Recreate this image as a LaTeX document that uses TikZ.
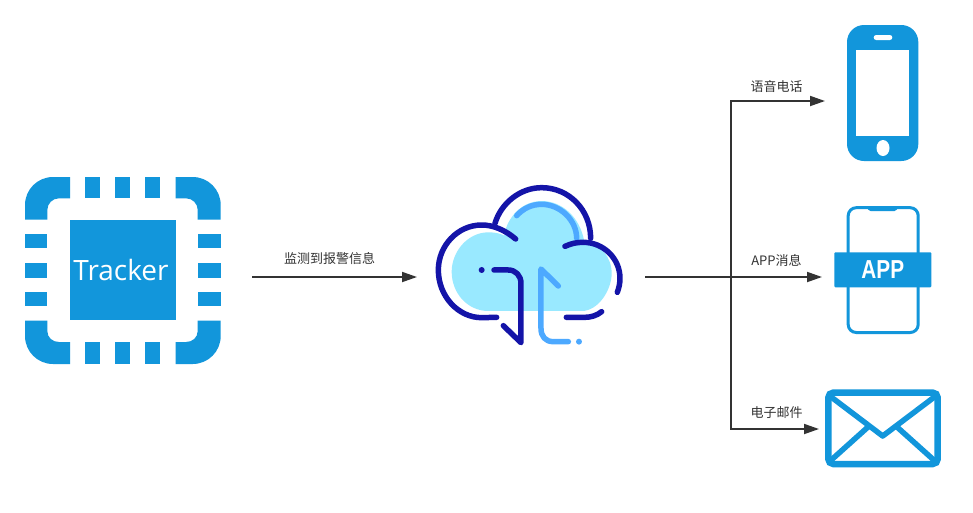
\documentclass[tikz,border=0pt]{standalone}
\usepackage{fontspec}
\setmainfont{Open Sans}
\newfontfamily\cjk{Noto Sans CJK SC}
\newfontfamily\appfont{Liberation Sans}
\usetikzlibrary{arrows.meta}
\definecolor{iconblue}{HTML}{1296DB}
\definecolor{linegray}{HTML}{333333}
\definecolor{cloudfill}{HTML}{99E9FF}
\definecolor{clouddark}{HTML}{1414A8}
\definecolor{cloudlight}{HTML}{4DA9FF}
\tikzset{
	flow/.style={draw=linegray,line width=1.8pt,-{Triangle[length=15pt,width=10pt]}},
	branch/.style={draw=linegray,line width=1.8pt},
	caption/.style={text=linegray,font=\cjk\fontsize{13}{15}\selectfont,inner sep=0pt},
	darkline/.style={draw=clouddark,line width=5.5pt,line cap=round,line join=round},
	lightline/.style={draw=cloudlight,line width=5.5pt,line cap=round,line join=round},
}

\begin{document}
\begin{tikzpicture}[x=1pt,y=-1pt]
	\useasboundingbox (0,0) rectangle (973,512);
	\fill[white] (0,0) rectangle (973,512);

	%tracker ring corners
	\fill[iconblue] (70,177) -- (53,177) .. controls (37.5,177) and (25,189.5) .. (25,205) -- (25,219.5) -- (47.3,219.5) -- (47.3,210) .. controls (47.3,203.5) and (52.5,198.3) .. (59,198.3) -- (70,198.3) -- cycle;
	\fill[iconblue] (175.7,177) -- (192.7,177) .. controls (208.2,177) and (220.7,189.5) .. (220.7,205) -- (220.7,219.5) -- (197.7,219.5) -- (197.7,210) .. controls (197.7,203.5) and (192.5,198.3) .. (186,198.3) -- (175.7,198.3) -- cycle;
	\fill[iconblue] (70,364) -- (53,364) .. controls (37.5,364) and (25,351.5) .. (25,336) -- (25,320.5) -- (47.3,320.5) -- (47.3,331) .. controls (47.3,337.5) and (52.5,342) .. (59,342) -- (70,342) -- cycle;
	\fill[iconblue] (175.7,364) -- (192.7,364) .. controls (208.2,364) and (220.7,351.5) .. (220.7,336) -- (220.7,320.5) -- (197.7,320.5) -- (197.7,331) .. controls (197.7,337.5) and (192.5,342) .. (186,342) -- (175.7,342) -- cycle;
	%tracker pins
	\fill[iconblue] (85.3,177) rectangle (100,198.3);
	\fill[iconblue] (115,177) rectangle (130,198.3);
	\fill[iconblue] (145.3,177) rectangle (160.3,198.3);
	\fill[iconblue] (85.3,342) rectangle (100,364);
	\fill[iconblue] (115,342) rectangle (130,364);
	\fill[iconblue] (145.3,342) rectangle (160.3,364);
	\fill[iconblue] (25,234.3) rectangle (47.3,248.3);
	\fill[iconblue] (25,263.3) rectangle (47.3,277.7);
	\fill[iconblue] (25,292) rectangle (47.3,306);
	\fill[iconblue] (197.7,234.3) rectangle (220.7,248.3);
	\fill[iconblue] (197.7,263.3) rectangle (220.7,277.7);
	\fill[iconblue] (197.7,292) rectangle (220.7,306);
	\fill[iconblue] (70,220) rectangle (175.7,320.3);
	\node[text=white,inner sep=0pt,font=\fontsize{28}{30}\selectfont] (tracker) at (121,270) {Tracker};

	%cloud
	\begin{scope}[shift={(425,175)},x=0.3333pt,y=-0.3333pt]
		\fill[cloudfill] (190,408) .. controls (128,408) and (80,355) .. (80,290) .. controls (80,230) and (128,172) .. (190,172) .. controls (210,172) and (225,175) .. (238,182) .. controls (240,160) and (250,140) .. (265,120) .. controls (285,95) and (315,78) .. (350,78) .. controls (410,78) and (465,125) .. (478,200) .. controls (525,205) and (560,245) .. (560,295) .. controls (560,345) and (520,408) .. (470,408) -- cycle;
		\draw[lightline] (275,122) .. controls (295,100) and (320,88) .. (350,88) .. controls (405,88) and (455,135) .. (455,190);
		\draw[lightline] (400,333) -- (348,282) -- (348,460) .. controls (348,485) and (362,500) .. (385,500) -- (430,500);
		\fill[cloudlight] (462,500) circle (9);
		\draw[darkline] (272,192) .. controls (240,165) and (205,150) .. (170,150) .. controls (98,150) and (40,212) .. (40,285) .. controls (40,364) and (100,428) .. (170,428) -- (215,427);
		\draw[darkline] (210,145) .. controls (228,85) and (285,38) .. (350,38) .. controls (432,38) and (497,105) .. (497,190);
		\draw[darkline] (420,214) .. controls (440,205) and (455,202) .. (475,202) .. controls (535,202) and (585,250) .. (585,310) .. controls (585,325) and (582,338) .. (577,352);
		\draw[darkline] (424,427) -- (480,427) .. controls (497,427) and (515,422) .. (530,410);
		\draw[darkline] (207,285) -- (250,285) .. controls (272,285) and (288,302) .. (288,325) -- (288,503) -- (235,452);
		\fill[clouddark] (170,285) circle (9);
	\end{scope}

	%phone
	\fill[iconblue,rounded corners=17pt] (847,25) rectangle (918.3,161);
	\fill[white] (856.3,50) rectangle (909.3,135.7);
	\fill[white,rounded corners=2.5pt] (873.7,35) rectangle (892.3,40);
	\fill[white] (883,148) ellipse (6.5 and 8);

	%app
	\draw[iconblue,line width=3pt,rounded corners=8pt] (848.2,207.7) rectangle (918.2,332.5);
	\fill[iconblue,rounded corners=1.5pt] (866.7,207) -- (898.3,207) -- (896,211) -- (869,211) -- cycle;
	\node[fill=iconblue,text=white,inner sep=0pt,minimum width=97pt,minimum height=35pt,rounded corners=1pt] (app) at (882.8,269.8) {\appfont\bfseries\fontsize{26}{30}\selectfont\scalebox{0.8}[1]{APP}};

	%mail
	\draw[iconblue,line width=6.5pt,rounded corners=5pt] (828.3,392.6) rectangle (937.7,464);
	\draw[iconblue,line width=5.5pt,line join=round] (828.5,395) -- (882.7,436) -- (937,395);
	\draw[iconblue,line width=5.5pt] (868,427) -- (829,462);
	\draw[iconblue,line width=5.5pt] (897,427) -- (936,462);

	%connectors
	\coordinate (trackerout) at (252,277);
	\coordinate (cloudin) at (417,277);
	\coordinate (cloudout) at (645,277);
	\coordinate (split) at (731,277);
	\coordinate (phonein) at (825,101);
	\coordinate (appin) at (822,277);
	\coordinate (mailin) at (819,429);
	\draw[flow] (trackerout) -- (cloudin);
	\draw[branch] (cloudout) -- (split);
	\draw[flow] (split) |- (phonein);
	\draw[flow] (split) -- (appin);
	\draw[flow] (split) |- (mailin);

	%labels
	\node[caption] (alarmtext) at (329.5,259) {监测到报警信息};
	\node[caption] (calltext) at (776.5,87) {语音电话};
	\node[caption] (apptext) at (776.5,260) {APP消息};
	\node[caption] (mailtext) at (776.5,413) {电子邮件};
\end{tikzpicture}
\end{document}
